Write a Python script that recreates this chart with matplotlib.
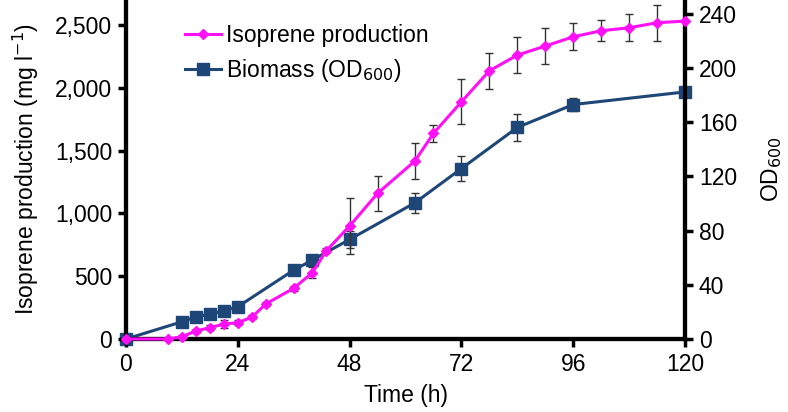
import matplotlib
matplotlib.use("Agg")
import matplotlib.pyplot as plt
from matplotlib.ticker import FuncFormatter
from matplotlib.lines import Line2D

plt.rcParams['font.family'] = ['Liberation Sans', 'DejaVu Sans']

# Isoprene production (mg/l)
iso_t = [0, 9, 12, 15, 18, 21, 24, 27, 30, 36, 40, 43, 48, 54, 62, 66, 72, 78, 84, 90, 96, 102, 108, 114, 120]
iso_v = [0, 0, 18, 64, 90, 119, 130, 173, 279, 404, 528, 703, 900, 1160, 1417, 1638, 1889, 2136, 2261, 2333, 2407, 2455, 2479, 2519, 2532]
iso_e = [0, 0, 10, 15, 20, 30, 20, 15, 15, 20, 45, 20, 225, 140, 143, 70, 178, 142, 142, 142, 106, 84, 106, 142, 0]

# Biomass (OD600)
od_t = [0, 12, 15, 18, 21, 24, 36, 40, 48, 62, 72, 84, 96, 120]
od_v = [0, 12.7, 16.4, 18.2, 20.8, 23.8, 50.8, 58.2, 73.4, 100.4, 125.7, 156, 172.9, 182.2]
od_e = [0, 0, 0, 0, 0, 0, 2, 3, 6, 7.4, 9.5, 10, 5, 0]

x_ticks = [0, 24, 48, 72, 96, 120]
left_ticks = [0, 500, 1000, 1500, 2000, 2500]
right_ticks = [0, 40, 80, 120, 160, 200, 240]

MAG = '#FF10F5'
NAVY = '#1E4677'
FS = 16.5

fig = plt.figure(figsize=(7.88, 4.12), dpi=100)
ax = fig.add_axes([126/788, 73/412, (685-126)/788, 339/412])
ax2 = ax.twinx()
ax.set_zorder(ax2.get_zorder() + 1)
ax.patch.set_visible(False)

ax2.errorbar(od_t, od_v, yerr=od_e, color=NAVY, marker='s', markersize=8, lw=2.2,
             ecolor='#333333', elinewidth=1, capsize=3, capthick=1, clip_on=False, zorder=3)
ax.errorbar(iso_t, iso_v, yerr=iso_e, color=MAG, marker='D', markersize=5, lw=2.2,
            ecolor='#333333', elinewidth=1, capsize=3, capthick=1, clip_on=False, zorder=4)

ax.set_xlim(0, 120)
ax.set_ylim(0, 2700)
ax2.set_ylim(0, 250)
ax.set_xticks(x_ticks)
ax.set_yticks(left_ticks)
ax2.set_yticks(right_ticks)
ax.yaxis.set_major_formatter(FuncFormatter(lambda v, p: f"{int(v):,}"))

for a in (ax, ax2):
    for s in ('left', 'right', 'bottom'):
        a.spines[s].set_linewidth(3)
    a.spines['top'].set_visible(False)
    a.tick_params(width=2.5, length=6, labelsize=FS, direction='out', pad=4)

ax.set_xlabel('Time (h)', fontsize=FS, labelpad=6)
ax.set_ylabel('Isoprene production (mg l$^{-1}$)', fontsize=FS, labelpad=10)
ax2.set_ylabel('OD$_{600}$', fontsize=FS, rotation=90, labelpad=16)

handles = [Line2D([], [], color=MAG, marker='D', markersize=5, lw=2.2),
           Line2D([], [], color=NAVY, marker='s', markersize=8, lw=2.2)]
ax.legend(handles, ['Isoprene production', 'Biomass (OD$_{600}$)'], loc='upper left',
          bbox_to_anchor=(0.068, 0.99), frameon=False,
          fontsize=FS, handlelength=1.6, handletextpad=0.2, labelspacing=0.45)

fig.savefig('out.png', dpi=100)
